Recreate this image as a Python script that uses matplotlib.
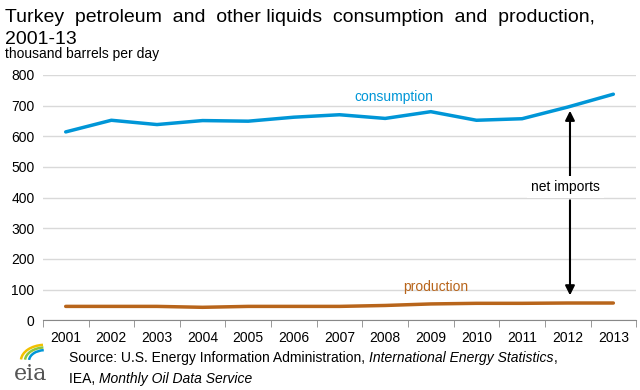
import matplotlib.pyplot as plt
import numpy as np
from matplotlib.patches import Arc

plt.rcParams['font.family'] = ['Liberation Sans', 'DejaVu Sans']

years = list(range(2001, 2014))
consumption = [614, 652, 638, 651, 649, 662, 670, 658, 680, 652, 657, 695, 737]
production = [45, 45, 45, 42, 45, 45, 45, 48, 53, 55, 55, 56, 56]

blue = '#0096d7'
brown = '#b8651b'

fig = plt.figure(figsize=(6.4, 3.9), dpi=100)
ax = fig.add_axes([0.067, 0.179, 0.927, 0.629])

ax.plot(years, consumption, color=blue, lw=2.5, solid_capstyle='round')
ax.plot(years, production, color=brown, lw=2.5, solid_capstyle='round')

ax.set_xlim(2000.5, 2013.5)
ax.set_ylim(0, 800)
ax.set_yticks(range(0, 801, 100))
ax.set_xticks(years)
ax.set_xticks(np.arange(2000.5, 2014, 1), minor=True)
ax.tick_params(axis='x', which='major', length=0, labelsize=10, pad=8)
ax.tick_params(axis='x', which='minor', length=5, color='#888888', direction='out')
ax.tick_params(axis='y', length=0, labelsize=10, pad=6)
ax.grid(axis='y', color='#d9d9d9', lw=1)
ax.set_axisbelow(True)
for s in ['top', 'right', 'left']:
    ax.spines[s].set_visible(False)
ax.spines['bottom'].set_color('#888888')

ax.text(2008.2, 715, 'consumption', color=blue, fontsize=10, ha='center')
ax.text(2009.1, 95, 'production', color=brown, fontsize=10, ha='center')
ax.annotate('', xy=(2012.05, 692), xytext=(2012.05, 400),
            arrowprops=dict(arrowstyle='-|>', color='black', lw=1.5, mutation_scale=14))
ax.annotate('', xy=(2012.05, 72), xytext=(2012.05, 400),
            arrowprops=dict(arrowstyle='-|>', color='black', lw=1.5, mutation_scale=14))
ax.text(2011.95, 435, 'net imports', fontsize=10, ha='center', va='center',
        bbox=dict(facecolor='white', edgecolor='none', pad=3))

fig.text(0.008, 0.955, 'Turkey  petroleum  and  other liquids  consumption  and  production,',
         fontsize=14, va='center')
fig.text(0.008, 0.898, '2001-13', fontsize=14, va='center')
fig.text(0.008, 0.862, 'thousand barrels per day', fontsize=10, va='center')

# source lines, pieces placed one after another
renderer = fig.canvas.get_renderer()
lines = [
    (0.083, [('Source: U.S. Energy Information Administration, ', 'normal'),
             ('International Energy Statistics', 'italic'), (',', 'normal')]),
    (0.028, [('IEA, ', 'normal'), ('Monthly Oil Data Service', 'italic')]),
]
for y, parts in lines:
    x = 0.108
    for s, st in parts:
        t = fig.text(x, y, s, fontsize=10, va='center', style=st)
        bb = t.get_window_extent(renderer)
        x += bb.width / fig.bbox.width

# eia logo
fig.text(0.022, 0.04, 'eia', fontsize=16, family='DejaVu Serif', color='#555555', va='center')
lax = fig.add_axes([0.022, 0.075, 0.065, 0.065])
lax.set_xlim(0, 1)
lax.set_ylim(0, 1)
lax.axis('off')
for r, c in [(0.9, '#f2c100'), (0.75, '#8dc63f'), (0.6, '#0096d7')]:
    lax.add_patch(Arc((0.75, 0.0), r * 1.3, r * 1.4, theta1=95, theta2=175, color=c, lw=1.8))

fig.savefig('out.png', dpi=100)
